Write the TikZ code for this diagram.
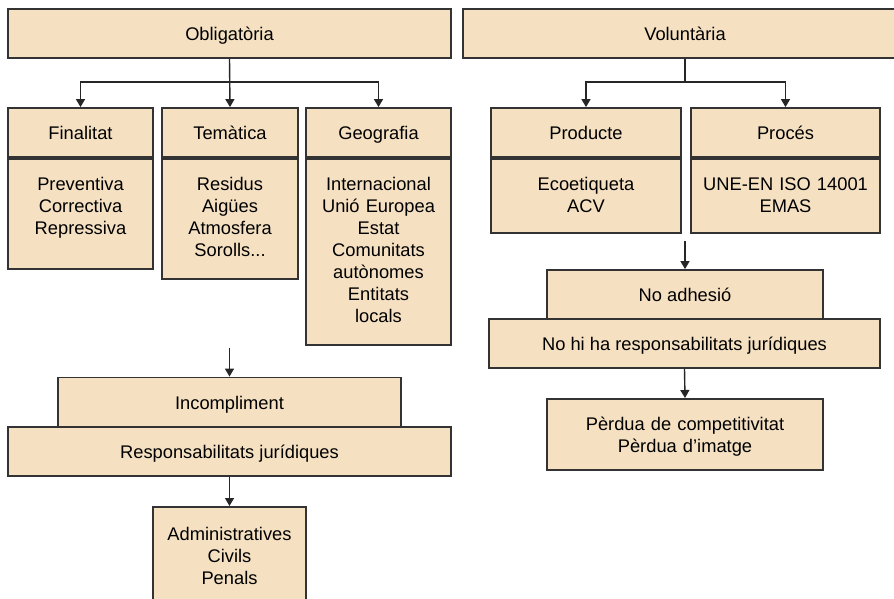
\documentclass[tikz,border=0pt]{standalone}
\usepackage{fontspec}
\setmainfont{Liberation Sans}
\usetikzlibrary{arrows.meta}

\definecolor{fons}{HTML}{F5E1C2}
\definecolor{linia}{HTML}{333333}

\tikzset{
	every node/.style={font=\fontsize{18.3}{22}\selectfont},
	caixa/.style={draw=linia, fill=fons, line width=1.8pt},
	capcalera/.style={caixa, minimum width=#1, minimum height=49, inner sep=0pt, text height=14, text depth=0},
	contingut/.style={caixa, text width=#1, align=center, inner sep=0pt, anchor=north, text height=32},
	fletxa/.style={-{Triangle[length=8pt,width=9pt]}, line width=1.4pt, draw=black!85}
}

\begin{document}
	\begin{tikzpicture}[x=1pt,y=-1pt]
		
		\clip (0,0) rectangle (894,599);
		
		% obligatoria
		\node[capcalera=443] (obl) at (229.5,33.5) {Obligatòria};
		\node[capcalera=145] (fin) at (80.5,132.5) {Finalitat};
		\node[capcalera=136] (tem) at (230,132.5) {Temàtica};
		\node[capcalera=145] (geo) at (378.5,132.5) {Geografia};
		
		\node[contingut=145, text depth=78] (finc) at (fin.south) {Preventiva\\Correctiva\\Repressiva};
		\node[contingut=136, text depth=88] (temc) at (tem.south) {Residus\\Aigües\\Atmosfera\\Sorolls...};
		\node[contingut=145, text depth=154] (geoc) at (geo.south) {Internacional\\Unió Europea\\Estat\\Comunitats\\autònomes\\Entitats\\locals};
		
		\draw[fletxa] (obl.south) -- (tem.north);
		\draw[fletxa] (obl.south) -- ++(0,23) -| (fin.north);
		\draw[fletxa] (obl.south) -- ++(0,23) -| (geo.north);
		
		\node[capcalera=343] (inc) at (229.5,402) {Incompliment};
		\node[capcalera=443] (resp) at (229.5,451.5) {Responsabilitats jurídiques};
		\node[contingut=153, text height=33.5, text depth=100] (adm) at (229.5,506) {Administratives\\Civils\\Penals};
		
		\coordinate (incin) at (229.5,348);
		\draw[fletxa] (incin) -- (inc.north);
		\draw[fletxa] (resp.south) -- (adm.north);
		
		% voluntaria
		\node[capcalera=444] (vol) at (685,33.5) {Voluntària};
		\node[capcalera=190] (prod) at (586,132.5) {Producte};
		\node[capcalera=189] (proc) at (785.5,132.5) {Procés};
		
		\node[contingut=190, text depth=42] (prodc) at (prod.south) {Ecoetiqueta\\ACV};
		\node[contingut=189, text depth=42] (procc) at (proc.south) {UNE-EN ISO 14001\\EMAS};
		
		\draw[fletxa] (vol.south) -- ++(0,23) -| (prod.north);
		\draw[fletxa] (vol.south) -- ++(0,23) -| (proc.north);
		
		\node[capcalera=276] (noadh) at (685,294.5) {No adhesió};
		\node[capcalera=391] (nohi) at (684.5,343.5) {No hi ha responsabilitats jurídiques};
		\node[contingut=276, text height=31.5, text depth=39.5] (perd) at (685,398) {Pèrdua de competitivitat\\Pèrdua d’imatge};
		
		\coordinate (noadhin) at (685,241);
		\draw[fletxa] (noadhin) -- (noadh.north);
		\draw[fletxa] (nohi.south) -- (perd.north);
		
	\end{tikzpicture}
\end{document}
